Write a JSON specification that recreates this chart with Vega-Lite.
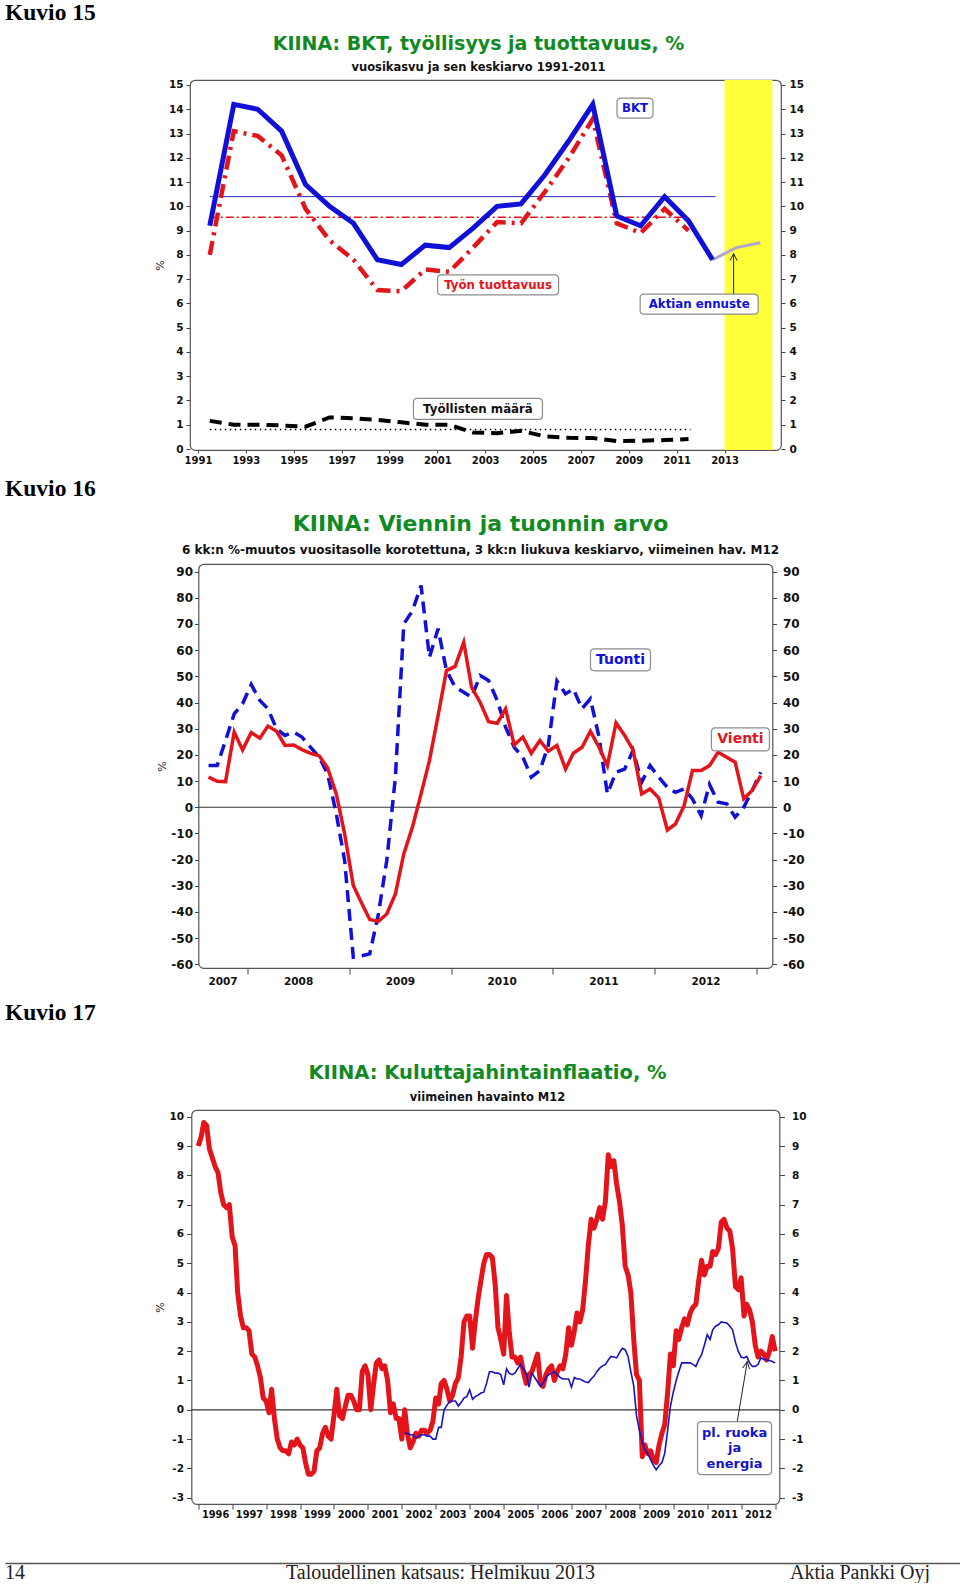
{
  "$schema": "https://vega.github.io/schema/vega-lite/v6.json",
  "background": "white",
  "padding": {"left": 5, "top": 0, "right": 0, "bottom": 0},
  "bounds": "flush",
  "center": true,
  "spacing": 0,
  "resolve": {"scale": {"shape": "independent", "color": "independent"}},
  "config": {
    "font": "DejaVu Sans",
    "view": {"stroke": null},
    "axis": {"labelFont": "DejaVu Sans", "labelFontWeight": "bold", "labelColor": "#111111", "tickColor": "#444444", "tickWidth": 1, "domain": false, "grid": false, "labelFlush": false, "labelOverlap": false, "titleFont": "DejaVu Sans"},
    "title": {"font": "DejaVu Sans", "fontWeight": "bold", "subtitleFont": "DejaVu Sans", "subtitleFontWeight": "bold", "color": "#128a23", "subtitleColor": "#111111"}
  },
  "datasets": {
    "kuvio15": [
      {"pvm": "1991-07-01", "bkt": 9.2, "tuottavuus": 8.0, "tyollisyys": 1.16},
      {"pvm": "1992-07-01", "bkt": 14.2, "tuottavuus": 13.1, "tyollisyys": 1.0},
      {"pvm": "1993-07-01", "bkt": 14.0, "tuottavuus": 12.9, "tyollisyys": 1.0},
      {"pvm": "1994-07-01", "bkt": 13.1, "tuottavuus": 12.1, "tyollisyys": 0.97},
      {"pvm": "1995-07-01", "bkt": 10.9, "tuottavuus": 9.9, "tyollisyys": 0.92},
      {"pvm": "1996-07-01", "bkt": 10.0, "tuottavuus": 8.6, "tyollisyys": 1.3},
      {"pvm": "1997-07-01", "bkt": 9.3, "tuottavuus": 7.8, "tyollisyys": 1.27},
      {"pvm": "1998-07-01", "bkt": 7.8, "tuottavuus": 6.55, "tyollisyys": 1.2},
      {"pvm": "1999-07-01", "bkt": 7.6, "tuottavuus": 6.5, "tyollisyys": 1.1},
      {"pvm": "2000-07-01", "bkt": 8.4, "tuottavuus": 7.4, "tyollisyys": 1.0},
      {"pvm": "2001-07-01", "bkt": 8.3, "tuottavuus": 7.3, "tyollisyys": 1.0},
      {"pvm": "2002-07-01", "bkt": 9.1, "tuottavuus": 8.3, "tyollisyys": 0.68},
      {"pvm": "2003-07-01", "bkt": 10.0, "tuottavuus": 9.35, "tyollisyys": 0.65},
      {"pvm": "2004-07-01", "bkt": 10.1, "tuottavuus": 9.3, "tyollisyys": 0.75},
      {"pvm": "2005-07-01", "bkt": 11.3, "tuottavuus": 10.6, "tyollisyys": 0.52},
      {"pvm": "2006-07-01", "bkt": 12.7, "tuottavuus": 12.0, "tyollisyys": 0.46},
      {"pvm": "2007-07-01", "bkt": 14.2, "tuottavuus": 13.6, "tyollisyys": 0.45},
      {"pvm": "2008-07-01", "bkt": 9.6, "tuottavuus": 9.3, "tyollisyys": 0.33},
      {"pvm": "2009-07-01", "bkt": 9.2, "tuottavuus": 8.9, "tyollisyys": 0.34},
      {"pvm": "2010-07-01", "bkt": 10.4, "tuottavuus": 9.9, "tyollisyys": 0.37},
      {"pvm": "2011-07-01", "bkt": 9.4, "tuottavuus": 9.0, "tyollisyys": 0.41},
      {"pvm": "2012-07-01", "bkt": 7.8}
    ],
    "ennuste15": [
      {"pvm": "2012-07-01", "bkt": 7.8},
      {"pvm": "2013-07-01", "bkt": 8.3},
      {"pvm": "2014-07-01", "bkt": 8.5}
    ],
    "ennustejakso": [{"alku": "2013-01-01", "loppu": "2015-01-01"}],
    "keskiarvot15": [
      {"sarja": "BKT", "pvm": "1991-07-01", "arvo": 10.4},
      {"sarja": "BKT", "pvm": "2012-08-15", "arvo": 10.4},
      {"sarja": "Työn tuottavuus", "pvm": "1991-07-01", "arvo": 9.55},
      {"sarja": "Työn tuottavuus", "pvm": "2011-07-20", "arvo": 9.55},
      {"sarja": "Työllisten määrä", "pvm": "1991-07-01", "arvo": 0.8},
      {"sarja": "Työllisten määrä", "pvm": "2011-08-01", "arvo": 0.8}
    ],
    "merkinnat15": [
      {"teksti": "BKT", "pvm": "2009-04-05", "arvo": 14.05},
      {"teksti": "Työn tuottavuus", "pvm": "2003-07-17", "arvo": 6.76},
      {"teksti": "Aktian ennuste", "pvm": "2011-12-10", "arvo": 5.97},
      {"teksti": "Työllisten määrä", "pvm": "2002-09-13", "arvo": 1.65}
    ],
    "nuoli15": [{"pvm": "2013-05-19", "alku": 6.35, "loppu": 8.05}],
    "kuvio16": [
      {"kk": "2007-08-15", "vienti": 11.5, "tuonti": 15.9},
      {"kk": "2007-09-15", "vienti": 9.9, "tuonti": 15.9},
      {"kk": "2007-10-15", "vienti": 9.8, "tuonti": 25.5},
      {"kk": "2007-11-15", "vienti": 28.7, "tuonti": 35.7},
      {"kk": "2007-12-15", "vienti": 21.9, "tuonti": 39.5},
      {"kk": "2008-01-15", "vienti": 28.5, "tuonti": 46.9},
      {"kk": "2008-02-15", "vienti": 26.4, "tuonti": 40.8},
      {"kk": "2008-03-15", "vienti": 31.0, "tuonti": 37.6},
      {"kk": "2008-04-15", "vienti": 29.0, "tuonti": 29.9},
      {"kk": "2008-05-15", "vienti": 23.6, "tuonti": 27.4},
      {"kk": "2008-06-15", "vienti": 23.8, "tuonti": 28.7},
      {"kk": "2008-07-15", "vienti": 22.0, "tuonti": 26.8},
      {"kk": "2008-08-15", "vienti": 20.6, "tuonti": 22.9},
      {"kk": "2008-09-15", "vienti": 19.6, "tuonti": 19.1},
      {"kk": "2008-10-15", "vienti": 15.0, "tuonti": 12.7},
      {"kk": "2008-11-15", "vienti": 5.1, "tuonti": -2.5},
      {"kk": "2008-12-15", "vienti": -10.2, "tuonti": -20.4},
      {"kk": "2009-01-15", "vienti": -29.9, "tuonti": -57.3},
      {"kk": "2009-02-15", "vienti": -36.9, "tuonti": -56.7},
      {"kk": "2009-03-15", "vienti": -42.9, "tuonti": -56.0},
      {"kk": "2009-04-15", "vienti": -43.6, "tuonti": -40.8},
      {"kk": "2009-05-15", "vienti": -40.8, "tuonti": -20.4},
      {"kk": "2009-06-15", "vienti": -33.1, "tuonti": 11.5},
      {"kk": "2009-07-15", "vienti": -17.8, "tuonti": 70.0},
      {"kk": "2009-08-15", "vienti": -7.6, "tuonti": 75.0},
      {"kk": "2009-09-15", "vienti": 5.1, "tuonti": 84.7},
      {"kk": "2009-10-15", "vienti": 17.8, "tuonti": 57.3},
      {"kk": "2009-11-15", "vienti": 35.0, "tuonti": 68.2},
      {"kk": "2009-12-15", "vienti": 52.2, "tuonti": 52.2},
      {"kk": "2010-01-15", "vienti": 53.8, "tuonti": 45.9},
      {"kk": "2010-02-15", "vienti": 63.0, "tuonti": 43.9},
      {"kk": "2010-03-15", "vienti": 45.9, "tuonti": 42.0},
      {"kk": "2010-04-15", "vienti": 40.0, "tuonti": 50.3},
      {"kk": "2010-05-15", "vienti": 32.7, "tuonti": 48.4},
      {"kk": "2010-06-15", "vienti": 32.1, "tuonti": 40.8},
      {"kk": "2010-07-15", "vienti": 37.6, "tuonti": 30.6},
      {"kk": "2010-08-15", "vienti": 23.8, "tuonti": 22.9},
      {"kk": "2010-09-15", "vienti": 26.8, "tuonti": 19.1},
      {"kk": "2010-10-15", "vienti": 20.6, "tuonti": 11.5},
      {"kk": "2010-11-15", "vienti": 25.5, "tuonti": 14.0},
      {"kk": "2010-12-15", "vienti": 21.4, "tuonti": 23.6},
      {"kk": "2011-01-15", "vienti": 23.6, "tuonti": 48.2},
      {"kk": "2011-02-15", "vienti": 14.6, "tuonti": 43.3},
      {"kk": "2011-03-15", "vienti": 20.6, "tuonti": 45.2},
      {"kk": "2011-04-15", "vienti": 22.9, "tuonti": 37.6},
      {"kk": "2011-05-15", "vienti": 29.0, "tuonti": 41.4},
      {"kk": "2011-06-15", "vienti": 22.9, "tuonti": 26.8},
      {"kk": "2011-07-15", "vienti": 15.9, "tuonti": 5.1},
      {"kk": "2011-08-15", "vienti": 32.2, "tuonti": 13.4},
      {"kk": "2011-09-15", "vienti": 27.4, "tuonti": 14.6},
      {"kk": "2011-10-15", "vienti": 21.9, "tuonti": 21.7},
      {"kk": "2011-11-15", "vienti": 5.1, "tuonti": 9.6},
      {"kk": "2011-12-15", "vienti": 7.0, "tuonti": 15.9},
      {"kk": "2012-01-15", "vienti": 3.6, "tuonti": 11.5},
      {"kk": "2012-02-15", "vienti": -8.7, "tuonti": 7.6},
      {"kk": "2012-03-15", "vienti": -6.4, "tuonti": 5.7},
      {"kk": "2012-04-15", "vienti": 0.6, "tuonti": 7.0},
      {"kk": "2012-05-15", "vienti": 14.0, "tuonti": 3.2},
      {"kk": "2012-06-15", "vienti": 14.0, "tuonti": -3.2},
      {"kk": "2012-07-15", "vienti": 15.9, "tuonti": 8.7},
      {"kk": "2012-08-15", "vienti": 21.0, "tuonti": 1.9},
      {"kk": "2012-09-15", "vienti": 19.1, "tuonti": 1.3},
      {"kk": "2012-10-15", "vienti": 17.2, "tuonti": -3.8},
      {"kk": "2012-11-15", "vienti": 3.2, "tuonti": 0.0},
      {"kk": "2012-12-15", "vienti": 6.4, "tuonti": 6.4},
      {"kk": "2013-01-15", "vienti": 12.1, "tuonti": 13.4}
    ],
    "merkinnat16": [
      {"teksti": "Tuonti", "pvm": "2011-08-31", "arvo": 56.3},
      {"teksti": "Vienti", "pvm": "2012-11-03", "arvo": 25.9}
    ],
    "kuvio17": [
      {"kk": "1996-01-01", "inf": 9.0}, {"kk": "1996-02-01", "inf": 9.3}, {"kk": "1996-03-01", "inf": 9.8}, {"kk": "1996-04-01", "inf": 9.7}, {"kk": "1996-05-01", "inf": 8.9}, {"kk": "1996-06-01", "inf": 8.6}, {"kk": "1996-07-01", "inf": 8.3}, {"kk": "1996-08-01", "inf": 8.1}, {"kk": "1996-09-01", "inf": 7.4}, {"kk": "1996-10-01", "inf": 7.0}, {"kk": "1996-11-01", "inf": 6.9}, {"kk": "1996-12-01", "inf": 7.0},
      {"kk": "1997-01-01", "inf": 5.9}, {"kk": "1997-02-01", "inf": 5.6}, {"kk": "1997-03-01", "inf": 4.0}, {"kk": "1997-04-01", "inf": 3.2}, {"kk": "1997-05-01", "inf": 2.8}, {"kk": "1997-06-01", "inf": 2.8}, {"kk": "1997-07-01", "inf": 2.7}, {"kk": "1997-08-01", "inf": 1.9}, {"kk": "1997-09-01", "inf": 1.8}, {"kk": "1997-10-01", "inf": 1.5}, {"kk": "1997-11-01", "inf": 1.1}, {"kk": "1997-12-01", "inf": 0.4},
      {"kk": "1998-01-01", "inf": 0.3}, {"kk": "1998-02-01", "inf": -0.1}, {"kk": "1998-03-01", "inf": 0.7}, {"kk": "1998-04-01", "inf": -0.3}, {"kk": "1998-05-01", "inf": -1.0}, {"kk": "1998-06-01", "inf": -1.3}, {"kk": "1998-07-01", "inf": -1.4}, {"kk": "1998-08-01", "inf": -1.4}, {"kk": "1998-09-01", "inf": -1.5}, {"kk": "1998-10-01", "inf": -1.1}, {"kk": "1998-11-01", "inf": -1.2}, {"kk": "1998-12-01", "inf": -1.0},
      {"kk": "1999-01-01", "inf": -1.2}, {"kk": "1999-02-01", "inf": -1.3}, {"kk": "1999-03-01", "inf": -1.8}, {"kk": "1999-04-01", "inf": -2.2}, {"kk": "1999-05-01", "inf": -2.2}, {"kk": "1999-06-01", "inf": -2.1}, {"kk": "1999-07-01", "inf": -1.4}, {"kk": "1999-08-01", "inf": -1.3}, {"kk": "1999-09-01", "inf": -0.8}, {"kk": "1999-10-01", "inf": -0.6}, {"kk": "1999-11-01", "inf": -0.9}, {"kk": "1999-12-01", "inf": -1.0},
      {"kk": "2000-01-01", "inf": -0.2}, {"kk": "2000-02-01", "inf": 0.7}, {"kk": "2000-03-01", "inf": -0.2}, {"kk": "2000-04-01", "inf": -0.3}, {"kk": "2000-05-01", "inf": 0.1}, {"kk": "2000-06-01", "inf": 0.5}, {"kk": "2000-07-01", "inf": 0.5}, {"kk": "2000-08-01", "inf": 0.3}, {"kk": "2000-09-01", "inf": 0.0}, {"kk": "2000-10-01", "inf": 0.0}, {"kk": "2000-11-01", "inf": 1.3}, {"kk": "2000-12-01", "inf": 1.5},
      {"kk": "2001-01-01", "inf": 1.2}, {"kk": "2001-02-01", "inf": 0.0}, {"kk": "2001-03-01", "inf": 0.8}, {"kk": "2001-04-01", "inf": 1.6}, {"kk": "2001-05-01", "inf": 1.7}, {"kk": "2001-06-01", "inf": 1.4}, {"kk": "2001-07-01", "inf": 1.5}, {"kk": "2001-08-01", "inf": 1.0}, {"kk": "2001-09-01", "inf": -0.1}, {"kk": "2001-10-01", "inf": 0.2}, {"kk": "2001-11-01", "inf": -0.3}, {"kk": "2001-12-01", "inf": -0.3},
      {"kk": "2002-01-01", "inf": -1.0}, {"kk": "2002-02-01", "inf": 0.0, "pohja": -0.8}, {"kk": "2002-03-01", "inf": -0.8, "pohja": -0.8}, {"kk": "2002-04-01", "inf": -1.3, "pohja": -0.85}, {"kk": "2002-05-01", "inf": -1.1, "pohja": -0.85}, {"kk": "2002-06-01", "inf": -0.8, "pohja": -0.97}, {"kk": "2002-07-01", "inf": -0.9, "pohja": -0.9}, {"kk": "2002-08-01", "inf": -0.7, "pohja": -0.85}, {"kk": "2002-09-01", "inf": -0.7, "pohja": -0.85}, {"kk": "2002-10-01", "inf": -0.8, "pohja": -0.9}, {"kk": "2002-11-01", "inf": -0.7, "pohja": -0.9}, {"kk": "2002-12-01", "inf": -0.4, "pohja": -1.0},
      {"kk": "2003-01-01", "inf": 0.4, "pohja": -1.0}, {"kk": "2003-02-01", "inf": 0.2, "pohja": -0.6}, {"kk": "2003-03-01", "inf": 0.9, "pohja": -0.6}, {"kk": "2003-04-01", "inf": 1.0, "pohja": 0.0}, {"kk": "2003-05-01", "inf": 0.7, "pohja": 0.15}, {"kk": "2003-06-01", "inf": 0.3, "pohja": 0.3}, {"kk": "2003-07-01", "inf": 0.5, "pohja": 0.3}, {"kk": "2003-08-01", "inf": 0.9, "pohja": 0.3}, {"kk": "2003-09-01", "inf": 1.1, "pohja": 0.13}, {"kk": "2003-10-01", "inf": 1.8, "pohja": 0.25}, {"kk": "2003-11-01", "inf": 3.0, "pohja": 0.4}, {"kk": "2003-12-01", "inf": 3.2, "pohja": 0.45},
      {"kk": "2004-01-01", "inf": 3.2, "pohja": 0.68}, {"kk": "2004-02-01", "inf": 2.1, "pohja": 0.36}, {"kk": "2004-03-01", "inf": 3.0, "pohja": 0.45}, {"kk": "2004-04-01", "inf": 3.8, "pohja": 0.5}, {"kk": "2004-05-01", "inf": 4.4, "pohja": 0.57}, {"kk": "2004-06-01", "inf": 5.0, "pohja": 0.6}, {"kk": "2004-07-01", "inf": 5.3, "pohja": 0.9}, {"kk": "2004-08-01", "inf": 5.3, "pohja": 1.3}, {"kk": "2004-09-01", "inf": 5.2, "pohja": 1.3}, {"kk": "2004-10-01", "inf": 4.3, "pohja": 1.25}, {"kk": "2004-11-01", "inf": 2.8, "pohja": 1.25}, {"kk": "2004-12-01", "inf": 2.4, "pohja": 1.2},
      {"kk": "2005-01-01", "inf": 1.9, "pohja": 0.85}, {"kk": "2005-02-01", "inf": 3.9, "pohja": 1.4}, {"kk": "2005-03-01", "inf": 2.7, "pohja": 1.25}, {"kk": "2005-04-01", "inf": 1.8, "pohja": 1.2}, {"kk": "2005-05-01", "inf": 1.8, "pohja": 1.25}, {"kk": "2005-06-01", "inf": 1.6, "pohja": 1.4}, {"kk": "2005-07-01", "inf": 1.8, "pohja": 1.55}, {"kk": "2005-08-01", "inf": 1.3, "pohja": 1.4}, {"kk": "2005-09-01", "inf": 0.9, "pohja": 1.25}, {"kk": "2005-10-01", "inf": 1.2, "pohja": 0.77}, {"kk": "2005-11-01", "inf": 1.3, "pohja": 1.25}, {"kk": "2005-12-01", "inf": 1.6, "pohja": 1.1},
      {"kk": "2006-01-01", "inf": 1.9, "pohja": 0.95}, {"kk": "2006-02-01", "inf": 0.9, "pohja": 0.8}, {"kk": "2006-03-01", "inf": 0.8, "pohja": 0.9}, {"kk": "2006-04-01", "inf": 1.2, "pohja": 1.1}, {"kk": "2006-05-01", "inf": 1.4, "pohja": 1.2}, {"kk": "2006-06-01", "inf": 1.5, "pohja": 1.25}, {"kk": "2006-07-01", "inf": 1.0, "pohja": 1.3}, {"kk": "2006-08-01", "inf": 1.3, "pohja": 1.2}, {"kk": "2006-09-01", "inf": 1.5, "pohja": 1.1}, {"kk": "2006-10-01", "inf": 1.4, "pohja": 1.05}, {"kk": "2006-11-01", "inf": 1.9, "pohja": 1.05}, {"kk": "2006-12-01", "inf": 2.8, "pohja": 1.05},
      {"kk": "2007-01-01", "inf": 2.2, "pohja": 0.77}, {"kk": "2007-02-01", "inf": 2.7, "pohja": 1.1}, {"kk": "2007-03-01", "inf": 3.3, "pohja": 1.05}, {"kk": "2007-04-01", "inf": 3.0, "pohja": 1.05}, {"kk": "2007-05-01", "inf": 3.4, "pohja": 1.0}, {"kk": "2007-06-01", "inf": 4.4, "pohja": 0.95}, {"kk": "2007-07-01", "inf": 5.6, "pohja": 0.93}, {"kk": "2007-08-01", "inf": 6.5, "pohja": 1.05}, {"kk": "2007-09-01", "inf": 6.2, "pohja": 1.15}, {"kk": "2007-10-01", "inf": 6.5, "pohja": 1.3}, {"kk": "2007-11-01", "inf": 6.9, "pohja": 1.42}, {"kk": "2007-12-01", "inf": 6.5, "pohja": 1.5},
      {"kk": "2008-01-01", "inf": 7.1, "pohja": 1.55}, {"kk": "2008-02-01", "inf": 8.7, "pohja": 1.7}, {"kk": "2008-03-01", "inf": 8.3, "pohja": 1.82}, {"kk": "2008-04-01", "inf": 8.5, "pohja": 1.8}, {"kk": "2008-05-01", "inf": 7.7, "pohja": 1.77}, {"kk": "2008-06-01", "inf": 7.1, "pohja": 1.95}, {"kk": "2008-07-01", "inf": 6.3, "pohja": 2.1}, {"kk": "2008-08-01", "inf": 4.9, "pohja": 2.05}, {"kk": "2008-09-01", "inf": 4.6, "pohja": 1.82}, {"kk": "2008-10-01", "inf": 4.0, "pohja": 1.3}, {"kk": "2008-11-01", "inf": 2.4, "pohja": 0.82}, {"kk": "2008-12-01", "inf": 1.2, "pohja": -0.2},
      {"kk": "2009-01-01", "inf": 1.0, "pohja": -0.7}, {"kk": "2009-02-01", "inf": -1.6, "pohja": -1.1}, {"kk": "2009-03-01", "inf": -1.2, "pohja": -1.35}, {"kk": "2009-04-01", "inf": -1.5, "pohja": -1.5}, {"kk": "2009-05-01", "inf": -1.4, "pohja": -1.7}, {"kk": "2009-06-01", "inf": -1.7, "pohja": -1.9}, {"kk": "2009-07-01", "inf": -1.8, "pohja": -2.05}, {"kk": "2009-08-01", "inf": -1.2, "pohja": -1.9}, {"kk": "2009-09-01", "inf": -0.8, "pohja": -1.8}, {"kk": "2009-10-01", "inf": -0.5, "pohja": -1.48}, {"kk": "2009-11-01", "inf": 0.6, "pohja": -0.7}, {"kk": "2009-12-01", "inf": 1.9, "pohja": 0.12},
      {"kk": "2010-01-01", "inf": 1.5, "pohja": 0.6}, {"kk": "2010-02-01", "inf": 2.7, "pohja": 1.0}, {"kk": "2010-03-01", "inf": 2.4, "pohja": 1.3}, {"kk": "2010-04-01", "inf": 2.8, "pohja": 1.6}, {"kk": "2010-05-01", "inf": 3.1, "pohja": 1.6}, {"kk": "2010-06-01", "inf": 2.9, "pohja": 1.6}, {"kk": "2010-07-01", "inf": 3.3, "pohja": 1.6}, {"kk": "2010-08-01", "inf": 3.5, "pohja": 1.55}, {"kk": "2010-09-01", "inf": 3.6, "pohja": 1.48}, {"kk": "2010-10-01", "inf": 4.4, "pohja": 1.7}, {"kk": "2010-11-01", "inf": 5.1, "pohja": 1.88}, {"kk": "2010-12-01", "inf": 4.6, "pohja": 2.2},
      {"kk": "2011-01-01", "inf": 4.9, "pohja": 2.56}, {"kk": "2011-02-01", "inf": 4.9, "pohja": 2.4}, {"kk": "2011-03-01", "inf": 5.4, "pohja": 2.73}, {"kk": "2011-04-01", "inf": 5.3, "pohja": 2.85}, {"kk": "2011-05-01", "inf": 5.5, "pohja": 2.9}, {"kk": "2011-06-01", "inf": 6.4, "pohja": 3.0}, {"kk": "2011-07-01", "inf": 6.5, "pohja": 2.98}, {"kk": "2011-08-01", "inf": 6.2, "pohja": 2.96}, {"kk": "2011-09-01", "inf": 6.1, "pohja": 2.85}, {"kk": "2011-10-01", "inf": 5.5, "pohja": 2.73}, {"kk": "2011-11-01", "inf": 4.2, "pohja": 2.3}, {"kk": "2011-12-01", "inf": 4.1, "pohja": 2.0},
      {"kk": "2012-01-01", "inf": 4.5, "pohja": 1.8}, {"kk": "2012-02-01", "inf": 3.2, "pohja": 1.77}, {"kk": "2012-03-01", "inf": 3.6, "pohja": 1.82}, {"kk": "2012-04-01", "inf": 3.4, "pohja": 1.6}, {"kk": "2012-05-01", "inf": 3.0, "pohja": 1.48}, {"kk": "2012-06-01", "inf": 2.2, "pohja": 1.48}, {"kk": "2012-07-01", "inf": 1.8, "pohja": 1.55}, {"kk": "2012-08-01", "inf": 2.0, "pohja": 1.77}, {"kk": "2012-09-01", "inf": 1.9, "pohja": 1.72}, {"kk": "2012-10-01", "inf": 1.7, "pohja": 1.7}, {"kk": "2012-11-01", "inf": 2.0, "pohja": 1.68}, {"kk": "2012-12-01", "inf": 2.5, "pohja": 1.65},
      {"kk": "2013-01-01", "inf": 2.0, "pohja": 1.6}
    ],
    "merkinnat17": [{"teksti": "pl. ruoka\nja\nenergia", "pvm": "2011-10-22", "arvo": -1.31}],
    "nuoli17": [{"alku_pvm": "2011-11-20", "loppu_pvm": "2012-03-07", "alku": -0.41, "loppu": 1.64}],
    "alatunniste": [
      {"kohta": "vasen", "teksti": "14"},
      {"kohta": "keski", "teksti": "Taloudellinen katsaus: Helmikuu 2013"},
      {"kohta": "oikea", "teksti": "Aktia Pankki Oyj"}
    ]
  },
  "vconcat": [
    {
      "width": 961, "height": 80,
      "title": {"text": "Kuvio 15", "anchor": "start", "frame": "group", "orient": "top", "offset": 0, "dy": 24, "baseline": "top", "font": "Liberation Serif", "fontSize": 23.5, "fontWeight": "bold", "color": "#000000"},
      "data": {"values": [{}]},
      "mark": {"type": "text", "text": ""}
    },
    {
      "width": 591, "height": 370,
      "view": {"stroke": "#555555", "strokeWidth": 1.2, "cornerRadius": 5},
      "title": {"text": "KIINA: BKT, työllisyys ja tuottavuus, %", "subtitle": "vuosikasvu ja sen keskiarvo 1991-2011", "anchor": "middle", "frame": "group", "dx": -7, "offset": 6, "fontSize": 19, "subtitleFontSize": 11.5, "subtitlePadding": 8},
      "resolve": {"axis": {"x": "independent", "y": "independent"}},
      "layer": [
        {
          "data": {"name": "ennustejakso"},
          "mark": {"type": "rect", "color": "#ffff3a"},
          "encoding": {
            "x": {"field": "alku", "type": "temporal", "scale": {"domain": [{"year": 1990, "month": 9, "date": 2}, {"year": 2015, "month": 5, "date": 12}], "nice": false}, "axis": null},
            "x2": {"field": "loppu"}
          }
        },
        {
          "data": {"name": "keskiarvot15"},
          "transform": [{"filter": "datum.sarja === 'BKT'"}],
          "mark": {"type": "line", "color": "#2a2ac4", "strokeWidth": 1},
          "encoding": {
            "x": {"field": "pvm", "type": "temporal", "scale": {"domain": [{"year": 1990, "month": 9, "date": 2}, {"year": 2015, "month": 5, "date": 12}], "nice": false}, "axis": null},
            "y": {"field": "arvo", "type": "quantitative", "scale": {"domain": [-0.041, 15.206], "nice": false, "zero": false}, "axis": {"orient": "right", "values": [0,1,2,3,4,5,6,7,8,9,10,11,12,13,14,15], "title": null, "labelFontSize": 10.5, "tickSize": 4, "labelPadding": 4}}
          }
        },
        {
          "data": {"name": "keskiarvot15"},
          "transform": [{"filter": "datum.sarja === 'Työn tuottavuus'"}],
          "mark": {"type": "line", "color": "#e4141b", "strokeWidth": 1.5, "strokeDash": [8, 3, 2, 3]},
          "encoding": {
            "x": {"field": "pvm", "type": "temporal", "scale": {"domain": [{"year": 1990, "month": 9, "date": 2}, {"year": 2015, "month": 5, "date": 12}], "nice": false}, "axis": null},
            "y": {"field": "arvo", "type": "quantitative", "scale": {"domain": [-0.041, 15.206], "nice": false, "zero": false}, "axis": null}
          }
        },
        {
          "data": {"name": "keskiarvot15"},
          "transform": [{"filter": "datum.sarja === 'Työllisten määrä'"}],
          "mark": {"type": "line", "color": "#000000", "strokeWidth": 1.5, "strokeDash": [1.5, 3.5]},
          "encoding": {
            "x": {"field": "pvm", "type": "temporal", "scale": {"domain": [{"year": 1990, "month": 9, "date": 2}, {"year": 2015, "month": 5, "date": 12}], "nice": false}, "axis": null},
            "y": {"field": "arvo", "type": "quantitative", "scale": {"domain": [-0.041, 15.206], "nice": false, "zero": false}, "axis": null}
          }
        },
        {
          "data": {"name": "kuvio15"},
          "mark": {"type": "line", "color": "#000000", "strokeWidth": 4, "strokeDash": [12, 7]},
          "encoding": {
            "x": {"field": "pvm", "type": "temporal", "scale": {"domain": [{"year": 1990, "month": 9, "date": 2}, {"year": 2015, "month": 5, "date": 12}], "nice": false}, "axis": null},
            "y": {"field": "tyollisyys", "type": "quantitative", "scale": {"domain": [-0.041, 15.206], "nice": false, "zero": false}, "axis": null}
          }
        },
        {
          "data": {"name": "kuvio15"},
          "mark": {"type": "line", "color": "#e4141b", "strokeWidth": 4.5, "strokeDash": [14, 6, 3, 6]},
          "encoding": {
            "x": {"field": "pvm", "type": "temporal", "scale": {"domain": [{"year": 1990, "month": 9, "date": 2}, {"year": 2015, "month": 5, "date": 12}], "nice": false}, "axis": null},
            "y": {"field": "tuottavuus", "type": "quantitative", "scale": {"domain": [-0.041, 15.206], "nice": false, "zero": false}, "axis": null}
          }
        },
        {
          "data": {"name": "ennuste15"},
          "mark": {"type": "line", "color": "#b0a6cc", "strokeWidth": 3},
          "encoding": {
            "x": {"field": "pvm", "type": "temporal", "scale": {"domain": [{"year": 1990, "month": 9, "date": 2}, {"year": 2015, "month": 5, "date": 12}], "nice": false}, "axis": null},
            "y": {"field": "bkt", "type": "quantitative", "scale": {"domain": [-0.041, 15.206], "nice": false, "zero": false}, "axis": null}
          }
        },
        {
          "data": {"name": "kuvio15"},
          "mark": {"type": "line", "color": "#1010d8", "strokeWidth": 5, "strokeJoin": "miter"},
          "encoding": {
            "x": {"field": "pvm", "type": "temporal", "scale": {"domain": [{"year": 1990, "month": 9, "date": 2}, {"year": 2015, "month": 5, "date": 12}], "nice": false},
                  "axis": {"orient": "bottom", "values": [{"year": 1991}, {"year": 1993}, {"year": 1995}, {"year": 1997}, {"year": 1999}, {"year": 2001}, {"year": 2003}, {"year": 2005}, {"year": 2007}, {"year": 2009}, {"year": 2011}, {"year": 2013}], "format": "%Y", "labelFontSize": 10, "tickSize": 3, "labelPadding": 2, "title": null}},
            "y": {"field": "bkt", "type": "quantitative", "scale": {"domain": [-0.041, 15.206], "nice": false, "zero": false},
                  "axis": {"orient": "left", "values": [0,1,2,3,4,5,6,7,8,9,10,11,12,13,14,15], "title": "%", "titleFontWeight": "normal", "titleFontSize": 11, "titleColor": "#222222", "titlePadding": 3, "labelFontSize": 10.5, "tickSize": 4, "labelPadding": 3}}
          }
        },
        {
          "data": {"name": "nuoli15"},
          "mark": {"type": "rule", "color": "#222222", "strokeWidth": 1},
          "encoding": {
            "x": {"field": "pvm", "type": "temporal", "scale": {"domain": [{"year": 1990, "month": 9, "date": 2}, {"year": 2015, "month": 5, "date": 12}], "nice": false}, "axis": null},
            "y": {"field": "alku", "type": "quantitative", "scale": {"domain": [-0.041, 15.206], "nice": false, "zero": false}, "axis": null},
            "y2": {"field": "loppu"}
          }
        },
        {
          "data": {"name": "nuoli15"},
          "mark": {"type": "point", "shape": "M-3.5,7L0,0L3.5,7", "size": 4, "filled": false, "stroke": "#222222", "strokeWidth": 1, "opacity": 1},
          "encoding": {
            "x": {"field": "pvm", "type": "temporal", "scale": {"domain": [{"year": 1990, "month": 9, "date": 2}, {"year": 2015, "month": 5, "date": 12}], "nice": false}, "axis": null},
            "y": {"field": "loppu", "type": "quantitative", "scale": {"domain": [-0.041, 15.206], "nice": false, "zero": false}, "axis": null}
          }
        },
        {
          "data": {"name": "merkinnat15"},
          "mark": {"type": "point", "size": 4, "filled": true, "fill": "#ffffff", "stroke": "#8c8c8c", "strokeWidth": 1.2, "opacity": 1},
          "encoding": {
            "x": {"field": "pvm", "type": "temporal", "scale": {"domain": [{"year": 1990, "month": 9, "date": 2}, {"year": 2015, "month": 5, "date": 12}], "nice": false}, "axis": null},
            "y": {"field": "arvo", "type": "quantitative", "scale": {"domain": [-0.041, 15.206], "nice": false, "zero": false}, "axis": null},
            "shape": {"field": "teksti", "type": "nominal", "legend": null, "scale": {"domain": ["BKT", "Työn tuottavuus", "Aktian ennuste", "Työllisten määrä"], "range": [
              "M-14,-10H14Q18,-10 18,-6V6Q18,10 14,10H-14Q-18,10 -18,6V-6Q-18,-10 -14,-10Z",
              "M-56.5,-10H56.5Q60.5,-10 60.5,-6V6Q60.5,10 56.5,10H-56.5Q-60.5,10 -60.5,6V-6Q-60.5,-10 -56.5,-10Z",
              "M-55,-10H55Q59,-10 59,-6V6Q59,10 55,10H-55Q-59,10 -59,6V-6Q-59,-10 -55,-10Z",
              "M-60.5,-10.5H60.5Q64.5,-10.5 64.5,-6.5V6.5Q64.5,10.5 60.5,10.5H-60.5Q-64.5,10.5 -64.5,6.5V-6.5Q-64.5,-10.5 -60.5,-10.5Z"]}}
          }
        },
        {
          "data": {"name": "merkinnat15"},
          "mark": {"type": "text", "font": "DejaVu Sans", "fontWeight": "bold", "fontSize": 11.8, "align": "center", "baseline": "middle"},
          "encoding": {
            "x": {"field": "pvm", "type": "temporal", "scale": {"domain": [{"year": 1990, "month": 9, "date": 2}, {"year": 2015, "month": 5, "date": 12}], "nice": false}, "axis": null},
            "y": {"field": "arvo", "type": "quantitative", "scale": {"domain": [-0.041, 15.206], "nice": false, "zero": false}, "axis": null},
            "text": {"field": "teksti"},
            "color": {"field": "teksti", "type": "nominal", "legend": null, "scale": {"domain": ["BKT", "Työn tuottavuus", "Aktian ennuste", "Työllisten määrä"], "range": ["#1010d8", "#e4141b", "#1010d8", "#111111"]}}
          }
        }
      ]
    },
    {
      "width": 961, "height": 114,
      "title": {"text": "Kuvio 16", "anchor": "start", "frame": "group", "orient": "top", "offset": 0, "dy": 50, "baseline": "top", "font": "Liberation Serif", "fontSize": 23.5, "fontWeight": "bold", "color": "#000000"},
      "data": {"values": [{}]},
      "mark": {"type": "text", "text": ""}
    },
    {
      "width": 574, "height": 404,
      "view": {"stroke": "#555555", "strokeWidth": 1.2, "cornerRadius": 5},
      "title": {"text": "KIINA: Viennin ja tuonnin arvo", "subtitle": "6 kk:n %-muutos vuositasolle korotettuna, 3 kk:n liukuva keskiarvo, viimeinen hav. M12", "anchor": "middle", "frame": "group", "dx": -5, "offset": 7, "fontSize": 22, "subtitleFontSize": 12, "subtitlePadding": 9},
      "resolve": {"axis": {"x": "independent", "y": "independent"}},
      "layer": [
        {
          "data": {"values": [{}]},
          "mark": {"type": "rule", "color": "#333333", "strokeWidth": 1},
          "encoding": {
            "y": {"datum": 0, "type": "quantitative", "scale": {"domain": [-61.4, 92.9], "nice": false, "zero": false}, "axis": null}
          }
        },
        {
          "data": {"name": "kuvio16"},
          "mark": {"type": "line", "color": "#1010d8", "strokeWidth": 3.5, "strokeDash": [12, 7]},
          "encoding": {
            "x": {"field": "kk", "type": "temporal", "scale": {"domain": [{"year": 2007, "month": 7, "date": 10}, {"year": 2013, "month": 2, "date": 26}], "nice": false},
                  "axis": {"orient": "bottom", "values": [{"year": 2008}, {"year": 2009}, {"year": 2010}, {"year": 2011}, {"year": 2012}, {"year": 2013}], "labels": false, "tickSize": 6, "title": null}},
            "y": {"field": "tuonti", "type": "quantitative", "scale": {"domain": [-61.4, 92.9], "nice": false, "zero": false},
                  "axis": {"orient": "left", "values": [-60,-50,-40,-30,-20,-10,0,10,20,30,40,50,60,70,80,90], "labelExpr": "'' + datum.value", "title": "%", "titleFontWeight": "normal", "titleFontSize": 11, "titleColor": "#222222", "titlePadding": 3, "labelFontSize": 12, "tickSize": 4, "labelPadding": 2}}
          }
        },
        {
          "data": {"name": "kuvio16"},
          "mark": {"type": "line", "color": "#e4141b", "strokeWidth": 3.5},
          "encoding": {
            "x": {"field": "kk", "type": "temporal", "scale": {"domain": [{"year": 2007, "month": 7, "date": 10}, {"year": 2013, "month": 2, "date": 26}], "nice": false},
                  "axis": {"orient": "bottom", "values": [{"year": 2007, "month": 10, "date": 4}, {"year": 2008, "month": 7, "date": 1}, {"year": 2009, "month": 7, "date": 1}, {"year": 2010, "month": 7, "date": 1}, {"year": 2011, "month": 7, "date": 1}, {"year": 2012, "month": 7, "date": 1}], "format": "%Y", "ticks": false, "tickSize": 0, "labelPadding": 8, "labelFontSize": 10.5, "title": null}},
            "y": {"field": "vienti", "type": "quantitative", "scale": {"domain": [-61.4, 92.9], "nice": false, "zero": false},
                  "axis": {"orient": "right", "values": [-60,-50,-40,-30,-20,-10,0,10,20,30,40,50,60,70,80,90], "labelExpr": "'' + datum.value", "title": null, "labelFontSize": 12, "tickSize": 4, "labelPadding": 6}}
          }
        },
        {
          "data": {"name": "merkinnat16"},
          "mark": {"type": "point", "size": 4, "filled": true, "fill": "#ffffff", "stroke": "#8c8c8c", "strokeWidth": 1.2, "opacity": 1},
          "encoding": {
            "x": {"field": "pvm", "type": "temporal", "scale": {"domain": [{"year": 2007, "month": 7, "date": 10}, {"year": 2013, "month": 2, "date": 26}], "nice": false}, "axis": null},
            "y": {"field": "arvo", "type": "quantitative", "scale": {"domain": [-61.4, 92.9], "nice": false, "zero": false}, "axis": null},
            "shape": {"field": "teksti", "type": "nominal", "legend": null, "scale": {"domain": ["Tuonti", "Vienti"], "range": [
              "M-26,-11H26Q30,-11 30,-7V7Q30,11 26,11H-26Q-30,11 -30,7V-7Q-30,-11 -26,-11Z",
              "M-25,-11.5H25Q29,-11.5 29,-7.5V7.5Q29,11.5 25,11.5H-25Q-29,11.5 -29,7.5V-7.5Q-29,-11.5 -25,-11.5Z"]}}
          }
        },
        {
          "data": {"name": "merkinnat16"},
          "mark": {"type": "text", "font": "DejaVu Sans", "fontWeight": "bold", "fontSize": 14, "align": "center", "baseline": "middle"},
          "encoding": {
            "x": {"field": "pvm", "type": "temporal", "scale": {"domain": [{"year": 2007, "month": 7, "date": 10}, {"year": 2013, "month": 2, "date": 26}], "nice": false}, "axis": null},
            "y": {"field": "arvo", "type": "quantitative", "scale": {"domain": [-61.4, 92.9], "nice": false, "zero": false}, "axis": null},
            "text": {"field": "teksti"},
            "color": {"field": "teksti", "type": "nominal", "legend": null, "scale": {"domain": ["Tuonti", "Vienti"], "range": ["#1010d8", "#e4141b"]}}
          }
        }
      ]
    },
    {
      "width": 961, "height": 142,
      "title": {"text": "Kuvio 17", "anchor": "start", "frame": "group", "orient": "top", "offset": 0, "dy": 56.5, "baseline": "top", "font": "Liberation Serif", "fontSize": 23.5, "fontWeight": "bold", "color": "#000000"},
      "data": {"values": [{}]},
      "mark": {"type": "text", "text": ""}
    },
    {
      "width": 588, "height": 394,
      "view": {"stroke": "#555555", "strokeWidth": 1.2, "cornerRadius": 5},
      "title": {"text": "KIINA: Kuluttajahintainflaatio, %", "subtitle": "viimeinen havainto M12", "anchor": "middle", "frame": "group", "dx": 2, "offset": 6, "fontSize": 19.5, "subtitleFontSize": 11.5, "subtitlePadding": 8},
      "resolve": {"axis": {"x": "independent", "y": "independent"}},
      "layer": [
        {
          "data": {"values": [{}]},
          "mark": {"type": "rule", "color": "#333333", "strokeWidth": 1.2},
          "encoding": {
            "y": {"datum": 0, "type": "quantitative", "scale": {"domain": [-3.215, 10.229], "nice": false, "zero": false}, "axis": null}
          }
        },
        {
          "data": {"name": "kuvio17"},
          "mark": {"type": "line", "color": "#e4141b", "strokeWidth": 5, "strokeJoin": "round"},
          "encoding": {
            "x": {"field": "kk", "type": "temporal", "scale": {"domain": [{"year": 1995, "month": 10, "date": 21}, {"year": 2013, "month": 2, "date": 17}], "nice": false},
                  "axis": {"orient": "bottom", "values": [{"year": 1996}, {"year": 1997}, {"year": 1998}, {"year": 1999}, {"year": 2000}, {"year": 2001}, {"year": 2002}, {"year": 2003}, {"year": 2004}, {"year": 2005}, {"year": 2006}, {"year": 2007}, {"year": 2008}, {"year": 2009}, {"year": 2010}, {"year": 2011}, {"year": 2012}, {"year": 2013}], "labels": false, "tickSize": 5, "title": null}},
            "y": {"field": "inf", "type": "quantitative", "scale": {"domain": [-3.215, 10.229], "nice": false, "zero": false},
                  "axis": {"orient": "left", "values": [-3,-2,-1,0,1,2,3,4,5,6,7,8,9,10], "labelExpr": "'' + datum.value", "title": "%", "titleFontWeight": "normal", "titleFontSize": 11, "titleColor": "#222222", "titlePadding": 3, "labelFontSize": 10.5, "tickSize": 5, "labelPadding": 3}}
          }
        },
        {
          "data": {"name": "kuvio17"},
          "mark": {"type": "line", "color": "#1414c8", "strokeWidth": 1.6},
          "encoding": {
            "x": {"field": "kk", "type": "temporal", "scale": {"domain": [{"year": 1995, "month": 10, "date": 21}, {"year": 2013, "month": 2, "date": 17}], "nice": false},
                  "axis": {"orient": "bottom", "values": [{"year": 1996, "month": 7, "date": 1}, {"year": 1997, "month": 7, "date": 1}, {"year": 1998, "month": 7, "date": 1}, {"year": 1999, "month": 7, "date": 1}, {"year": 2000, "month": 7, "date": 1}, {"year": 2001, "month": 7, "date": 1}, {"year": 2002, "month": 7, "date": 1}, {"year": 2003, "month": 7, "date": 1}, {"year": 2004, "month": 7, "date": 1}, {"year": 2005, "month": 7, "date": 1}, {"year": 2006, "month": 7, "date": 1}, {"year": 2007, "month": 7, "date": 1}, {"year": 2008, "month": 7, "date": 1}, {"year": 2009, "month": 7, "date": 1}, {"year": 2010, "month": 7, "date": 1}, {"year": 2011, "month": 7, "date": 1}, {"year": 2012, "month": 7, "date": 1}], "format": "%Y", "ticks": false, "tickSize": 0, "labelPadding": 5, "labelFontSize": 9.8, "title": null}},
            "y": {"field": "pohja", "type": "quantitative", "scale": {"domain": [-3.215, 10.229], "nice": false, "zero": false},
                  "axis": {"orient": "right", "values": [-3,-2,-1,0,1,2,3,4,5,6,7,8,9,10], "labelExpr": "'' + datum.value", "title": null, "labelFontSize": 10.5, "tickSize": 5, "labelPadding": 7}}
          }
        },
        {
          "data": {"name": "nuoli17"},
          "mark": {"type": "rule", "color": "#222222", "strokeWidth": 1},
          "encoding": {
            "x": {"field": "alku_pvm", "type": "temporal", "scale": {"domain": [{"year": 1995, "month": 10, "date": 21}, {"year": 2013, "month": 2, "date": 17}], "nice": false}, "axis": null},
            "x2": {"field": "loppu_pvm"},
            "y": {"field": "alku", "type": "quantitative", "scale": {"domain": [-3.215, 10.229], "nice": false, "zero": false}, "axis": null},
            "y2": {"field": "loppu"}
          }
        },
        {
          "data": {"name": "nuoli17"},
          "mark": {"type": "point", "shape": "M-3.5,7L0,0L3.5,7", "size": 4, "angle": 9.5, "filled": false, "stroke": "#222222", "strokeWidth": 1, "opacity": 1},
          "encoding": {
            "x": {"field": "loppu_pvm", "type": "temporal", "scale": {"domain": [{"year": 1995, "month": 10, "date": 21}, {"year": 2013, "month": 2, "date": 17}], "nice": false}, "axis": null},
            "y": {"field": "loppu", "type": "quantitative", "scale": {"domain": [-3.215, 10.229], "nice": false, "zero": false}, "axis": null}
          }
        },
        {
          "data": {"name": "merkinnat17"},
          "mark": {"type": "point", "size": 4, "filled": true, "fill": "#ffffff", "stroke": "#8c8c8c", "strokeWidth": 1.2, "opacity": 1, "shape": "M-33,-26.5H33Q37,-26.5 37,-22.5V22.5Q37,26.5 33,26.5H-33Q-37,26.5 -37,22.5V-22.5Q-37,-26.5 -33,-26.5Z"},
          "encoding": {
            "x": {"field": "pvm", "type": "temporal", "scale": {"domain": [{"year": 1995, "month": 10, "date": 21}, {"year": 2013, "month": 2, "date": 17}], "nice": false}, "axis": null},
            "y": {"field": "arvo", "type": "quantitative", "scale": {"domain": [-3.215, 10.229], "nice": false, "zero": false}, "axis": null}
          }
        },
        {
          "data": {"name": "merkinnat17"},
          "mark": {"type": "text", "font": "DejaVu Sans", "fontWeight": "bold", "fontSize": 13, "align": "center", "baseline": "middle", "lineBreak": "\n", "lineHeight": 15.5, "dy": -15.5, "color": "#1414c8"},
          "encoding": {
            "x": {"field": "pvm", "type": "temporal", "scale": {"domain": [{"year": 1995, "month": 10, "date": 21}, {"year": 2013, "month": 2, "date": 17}], "nice": false}, "axis": null},
            "y": {"field": "arvo", "type": "quantitative", "scale": {"domain": [-3.215, 10.229], "nice": false, "zero": false}, "axis": null},
            "text": {"field": "teksti"}
          }
        }
      ]
    },
    {
      "width": 961, "height": 59,
      "data": {"values": [{}]},
      "mark": {"type": "text", "text": ""}
    },
    {
      "width": 961, "height": 20,
      "data": {"name": "alatunniste"},
      "encoding": {
        "x": {"field": "kohta", "type": "nominal", "scale": {"type": "point", "domain": ["vasen", "keski", "oikea"], "padding": 0},
              "axis": {"orient": "top", "domain": true, "domainColor": "#555555", "domainWidth": 1.5, "labels": false, "ticks": false, "title": null}}
      },
      "layer": [
        {
          "transform": [{"filter": "datum.kohta === 'vasen'"}],
          "mark": {"type": "text", "font": "Liberation Serif", "fontSize": 20, "align": "left", "baseline": "middle", "color": "#222222"},
          "encoding": {"text": {"field": "teksti"}}
        },
        {
          "transform": [{"filter": "datum.kohta === 'keski'"}],
          "mark": {"type": "text", "font": "Liberation Serif", "fontSize": 20, "align": "center", "baseline": "middle", "dx": -45, "color": "#222222"},
          "encoding": {"text": {"field": "teksti"}}
        },
        {
          "transform": [{"filter": "datum.kohta === 'oikea'"}],
          "mark": {"type": "text", "font": "Liberation Serif", "fontSize": 20, "align": "right", "baseline": "middle", "dx": -36, "color": "#222222"},
          "encoding": {"text": {"field": "teksti"}}
        }
      ]
    }
  ]
}
